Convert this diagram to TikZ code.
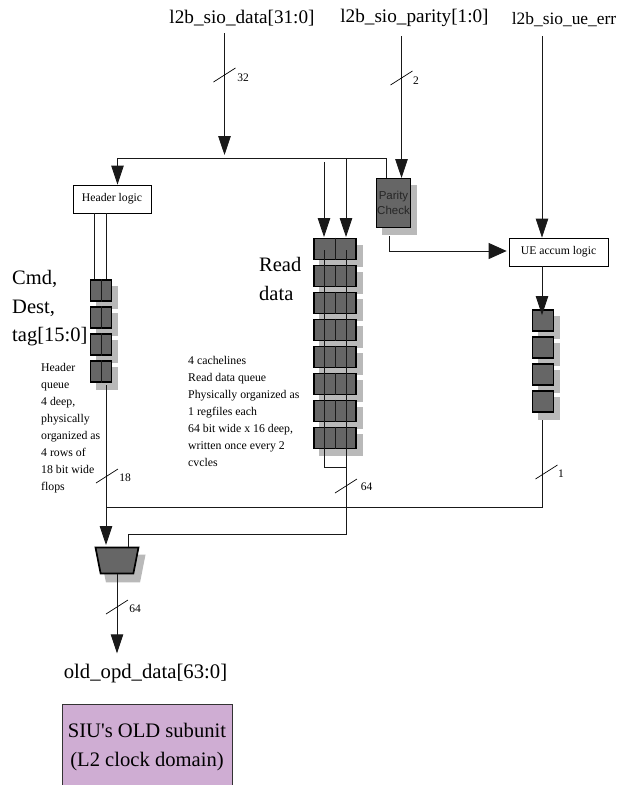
\documentclass[tikz,border=0pt]{standalone}
\usepackage{fontspec}
\setmainfont{Liberation Serif}
\newfontfamily\parityfont{Liberation Sans}
\usetikzlibrary{arrows.meta,shadows,shapes.geometric}
\definecolor{regfill}{HTML}{666666}
\definecolor{regshadow}{HTML}{B9B9B9}
\definecolor{subunitfill}{HTML}{CFADD3}
\tikzset{
  wire/.style={line width=0.8pt,black!90},
  bus/.style={wire,-{Triangle[length=19pt,width=12.5pt]}},
  slash/.style={line width=0.7pt},
  shadowed/.style={drop shadow={shadow xshift=6pt,shadow yshift=-7pt,opacity=1,fill=regshadow,draw=regshadow}},
  regbase/.style={draw=black,fill=regfill,line width=1.7pt,inner sep=0pt,minimum height=21pt},
  regcell/.style={shadowed,regbase},
  logicbox/.style={draw=black,fill=white,line width=0.7pt,inner sep=0pt,font=\fontsize{11.7}{14}\selectfont},
  siglabel/.style={inner sep=0pt,anchor=base,font=\fontsize{19.2}{24}\selectfont},
  widthlabel/.style={inner sep=0pt,font=\fontsize{11.5}{14}\selectfont},
  biglabel/.style={inner sep=0pt,anchor=north west,align=left,font=\fontsize{20.5}{28.7}\selectfont},
  notelabel/.style={inner sep=0pt,anchor=north west,align=left,font=\fontsize{11.8}{17}\selectfont},
}
\begin{document}
\begin{tikzpicture}[x=1pt,y=-1pt]
  \useasboundingbox (0,0) rectangle (626,785);
  \node[siglabel] (datalabel) at (242,23) {l2b\_sio\_data[31:0]};
  \node[siglabel] (paritylabel) at (414.5,22) {l2b\_sio\_parity[1:0]};
  \node[siglabel,font=\fontsize{17.4}{24}\selectfont] (uelabel) at (564,24) {l2b\_sio\_ue\_err};
  \node[logicbox,minimum width=78pt,minimum height=28pt] (hdrlogic) at (112,199) {Header logic};
  \node[logicbox,minimum width=99pt,minimum height=28pt] (uelogic) at (558.5,252) {UE accum logic};
  \node[regcell,minimum width=34pt,minimum height=49pt,align=center,text=black!85,font=\parityfont\fontsize{11.5}{15}\selectfont] (parity) at (393.5,203) {Parity\\Check};
  \foreach \i in {1,...,4}{
    \node[regcell,minimum width=21pt] (hdr\i) at (101,{290.5+27*(\i-1)}) {};
    \draw[wire] (hdr\i.north) -- (hdr\i.south);
    \node[regcell,minimum width=21pt] (uereg\i) at (543,{320.5+27*(\i-1)}) {};
  }
  \foreach \i in {1,...,8}{
    \node[regcell,minimum width=42pt] (rd\i) at (335,{249+27*(\i-1)}) {};
    \draw[wire] (rd\i.north) -- (rd\i.south);
  }
  \node[regbase,trapezium,trapezium angle=78,shape border rotate=180,trapezium stretches=true,
    minimum width=43pt,minimum height=26pt,drop shadow={shadow xshift=6pt,shadow yshift=-8pt,opacity=1,fill=regshadow,draw=regshadow}] (mux) at (117,560.5) {\phantom{M}};
  \node[siglabel,font=\fontsize{20.7}{24}\selectfont] (opdlabel) at (145.5,678) {old\_opd\_data[63:0]};
  \node[draw=black!80,fill=subunitfill,line width=0.9pt,inner sep=0pt,minimum width=170pt,minimum height=86pt,align=center,
    font=\fontsize{20.6}{29}\selectfont] (subunit) at (147,747) {SIU\textquotesingle s OLD subunit\\(L2 clock domain)};
  \node[biglabel] (cmdlabel) at (12,270) {Cmd,\\Dest,\\tag[15:0]};
  \node[biglabel] (readlabel) at (259,257) {Read\\data};
  \node[notelabel] (hdrnote) at (41,363) {Header\\queue\\4 deep,\\physically\\organized as\\4 rows of\\18 bit wide\\flops};
  \node[notelabel] (rdnote) at (188,356) {4 cachelines\\Read data queue\\Physically organized as\\1 regfiles each\\64 bit wide x 16 deep,\\written once every 2\\cvcles};
  \coordinate (datastart) at (224.5,33);
  \coordinate (datajoin) at (224.5,155);
  \coordinate (busleft) at (117.5,158);
  \coordinate (busright) at (386,158);
  \coordinate (paritystart) at (401.5,36);
  \coordinate (paritytip) at (401.5,178);
  \coordinate (uestart) at (542,36);
  \coordinate (rdleft) at (324,162);
  \coordinate (rdright) at (346,158);
  \coordinate (rdleftin) at (324,237);
  \coordinate (rdrightin) at (346,237);
  \coordinate (rdleftgo) at (324,250);
  \coordinate (rdrightgo) at (346,250);
  \coordinate (rdloopl) at (324,467);
  \coordinate (rdloopr) at (346,467);
  \coordinate (hdrout) at (106,385);
  \coordinate (hdrin) at (106,545);
  \coordinate (hdrjoin) at (106,507);
  \coordinate (ueout) at (542,420);
  \coordinate (uejoin) at (542,507);
  \coordinate (rdbend) at (346,534);
  \coordinate (muxin) at (128,534);
  \coordinate (paritygo) at (389,236);
  \coordinate (paritybend) at (389,251);
  \draw[bus] (datastart) -- (datajoin);
  \draw[wire] (busleft) -- (busright) -- (parity.north -| busright);
  \draw[bus] (busleft) -- (hdrlogic.north -| busleft);
  \draw[bus] (paritystart) -- (paritytip);
  \draw[bus] (uestart) -- (uelogic.north -| uestart);
  \draw[bus] (rdleft) -- (rdleftin);
  \draw[bus] (rdright) -- (rdrightin);
  \draw[wire] (rdleftgo) -- (rdloopl) -- (rdloopr) -- (rdrightgo);
  \draw[wire] (rdloopr) -- (rdbend) -- (muxin) -- (mux.north -| muxin);
  \draw[wire] (hdrlogic.south -| hdr1.west) ++(5,0) coordinate (hdrl) -- (hdrl |- hdr1.north);
  \draw[wire] (hdrlogic.south -| hdrout) -- (hdr1.north -| hdrout);
  \draw[bus] (hdrout) -- (hdrin);
  \draw[wire] (hdrjoin) -- (uejoin) -- (ueout);
  \draw[wire,-{Triangle[length=18pt,width=16pt]}] (paritygo) -- (paritybend) -- ([xshift=-2pt]uelogic.west |- paritybend);
  \draw[bus] (uelogic.south -| uestart) -- ([yshift=-6pt]uereg1.north -| uestart);
  \draw[bus] (mux.south) -- ++(0,79);
  \foreach \bx/\by/\val/\lx/\ly in {224.5/75/32/243/78,401.5/78/2/416/81,107/476/18/125/478,346/486/64/366.5/487,546.5/472/1/561/474,117/607/64/135/609}{
    \draw[slash] (\bx-11,\by+7) -- (\bx+11,\by-7);
    \node[widthlabel] at (\lx,\ly) {\val};
  }
\end{tikzpicture}
\end{document}
